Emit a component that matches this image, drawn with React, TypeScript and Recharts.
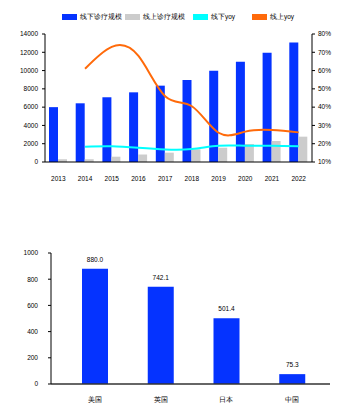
import React from 'react';
import { ComposedChart, BarChart, Bar, Line, XAxis, YAxis, LabelList } from 'recharts';

const years = ['2013', '2014', '2015', '2016', '2017', '2018', '2019', '2020', '2021', '2022'];
const offlineScale = [6000, 6420, 7080, 7620, 8350, 8970, 9980, 10970, 11960, 13060];
const onlineScale = [300, 300, 580, 820, 1020, 1390, 1560, 1970, 2300, 2770];
const offlineYoy = [null, 18.4, 18.6, 17.8, 16.9, 17.1, 18.9, 18.9, 18.9, 18.6];
const onlineYoy = [null, 61, 73, 68, 46, 40.5, 26, 26.6, 27.5, 26.2];
const seriesNames = ['线下诊疗规模', '线上诊疗规模', '线下yoy', '线上yoy'];
const seriesColors = ['#0533FF', '#CCCCCC', '#00FFFF', '#FF6A0A'];
const leftTicks = [0, 2000, 4000, 6000, 8000, 10000, 12000, 14000];
const rightTicks = [10, 20, 30, 40, 50, 60, 70, 80];

const countries = ['美国', '英国', '日本', '中国'];
const countryValues = [880.0, 742.1, 501.4, 75.3];
const countryTicks = [0, 200, 400, 600, 800, 1000];

const topData = years.map((y, i) => ({
  year: y,
  offline: offlineScale[i],
  online: onlineScale[i],
  offYoy: offlineYoy[i],
  onYoy: onlineYoy[i],
}));

const bottomData = countries.map((c, i) => ({ country: c, value: countryValues[i] }));

const FONT = '"Liberation Sans", Arial, sans-serif';
const tickStyle = { fontSize: 6.5, fill: '#000', fontFamily: FONT };

const legendX = [62, 125, 193, 252];

export default function App() {
  return (
    <div style={{ position: 'absolute', left: 0, top: 0, width: 355, height: 409, background: '#fff', fontFamily: FONT }}>
      {seriesNames.map((n, i) => (
        <div key={n} style={{ position: 'absolute', left: legendX[i], top: 12, height: 10, display: 'flex', alignItems: 'center' }}>
          <div style={{ width: 15, height: 6.5, background: seriesColors[i] }} />
          <span style={{ marginLeft: 3, fontSize: 6.5, color: '#000', whiteSpace: 'nowrap' }}>{n}</span>
        </div>
      ))}
      <div style={{ position: 'absolute', left: 0, top: 0 }}>
        <ComposedChart width={355} height={190} data={topData} margin={{ top: 34, right: 5, bottom: 8, left: 5 }} barGap={0}>
          <XAxis dataKey="year" interval={0} tickLine={false} axisLine={{ stroke: '#000', strokeWidth: 1.2 }} tickMargin={8} height={20} tick={tickStyle} />
          <YAxis yAxisId="left" domain={[0, 14000]} ticks={leftTicks} width={40} tickSize={3} tickMargin={4} axisLine={{ stroke: '#000' }} tickLine={{ stroke: '#000' }} tick={tickStyle} />
          <YAxis yAxisId="right" orientation="right" domain={[10, 80]} ticks={rightTicks} width={38} tickSize={3} tickMargin={3} axisLine={{ stroke: '#000' }} tickLine={{ stroke: '#000' }} tick={tickStyle} tickFormatter={(v: number) => `${v}%`} />
          <Bar yAxisId="left" dataKey="offline" name={seriesNames[0]} fill={seriesColors[0]} barSize={9} isAnimationActive={false} />
          <Bar yAxisId="left" dataKey="online" name={seriesNames[1]} fill={seriesColors[1]} barSize={9} isAnimationActive={false} />
          <Line yAxisId="right" type="natural" dataKey="offYoy" name={seriesNames[2]} stroke={seriesColors[2]} strokeWidth={2} dot={false} isAnimationActive={false} />
          <Line yAxisId="right" type="natural" dataKey="onYoy" name={seriesNames[3]} stroke={seriesColors[3]} strokeWidth={2} dot={false} isAnimationActive={false} />
        </ComposedChart>
      </div>
      <div style={{ position: 'absolute', left: 0, top: 200 }}>
        <BarChart width={355} height={209} data={bottomData} margin={{ top: 53, right: 25, bottom: 5, left: 6 }}>
          <XAxis dataKey="country" interval={0} tickLine={false} axisLine={{ stroke: '#333', strokeWidth: 1.3 }} tickMargin={7} height={20} padding={{ left: 11, right: 5 }} tick={{ ...tickStyle, fontSize: 7 }} />
          <YAxis domain={[0, 1000]} ticks={countryTicks} width={45} tickSize={3} tickMargin={10} axisLine={{ stroke: '#000' }} tickLine={{ stroke: '#000' }} tick={tickStyle} />
          <Bar dataKey="value" fill={seriesColors[0]} barSize={26} isAnimationActive={false}>
            <LabelList dataKey="value" position="top" offset={7} formatter={(v: number) => Number(v).toFixed(1)} style={{ fontSize: 6.5, fill: '#000', fontFamily: FONT }} />
          </Bar>
        </BarChart>
      </div>
    </div>
  );
}
